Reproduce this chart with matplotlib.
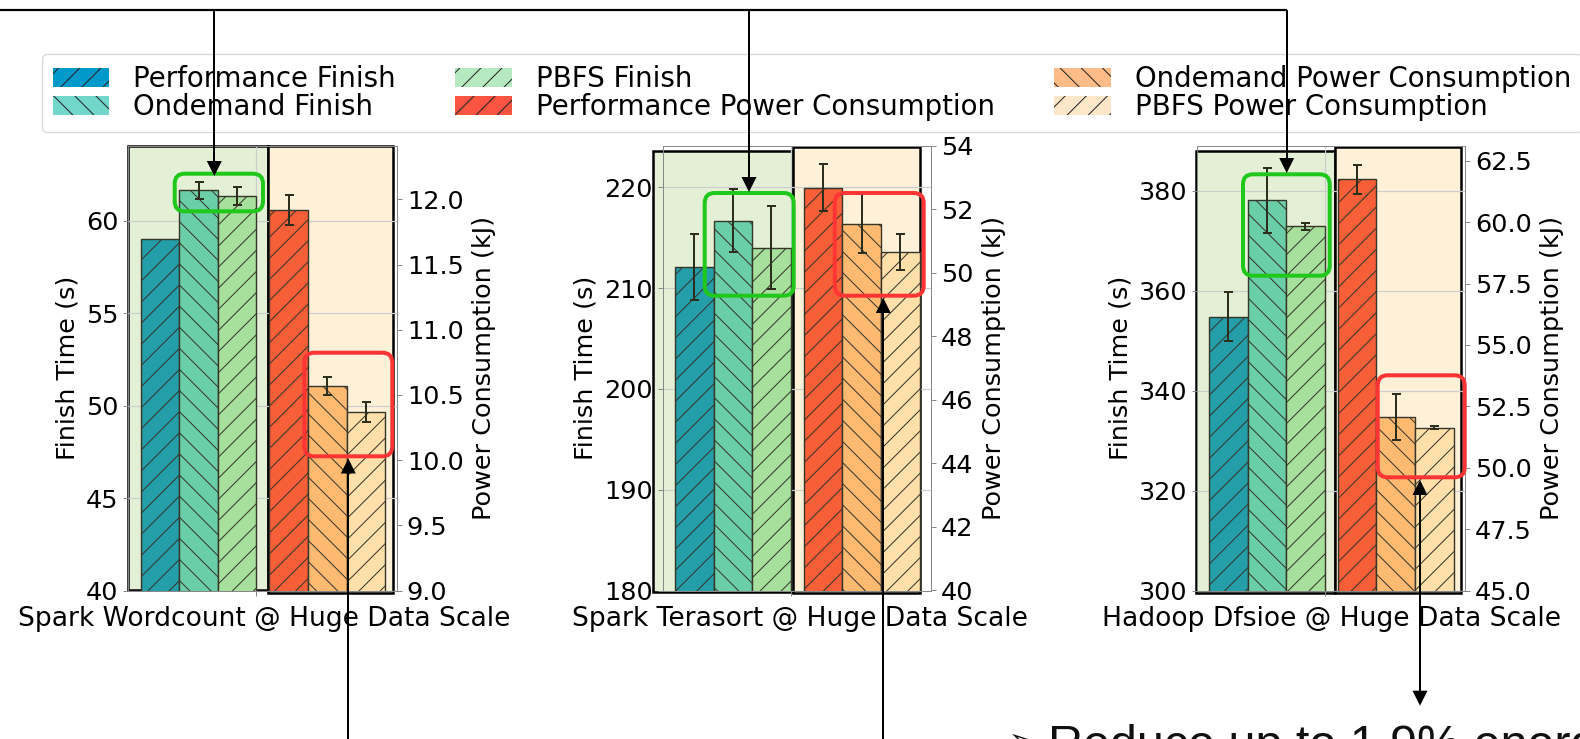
import matplotlib
matplotlib.use("Agg")
import matplotlib.pyplot as plt
from matplotlib.patches import Rectangle, FancyBboxPatch, Polygon, Patch
from matplotlib.lines import Line2D
from matplotlib.transforms import Affine2D

# ---------------------------------------------------------------- data
workloads = ["Spark Wordcount @ Huge Data Scale",
             "Spark Terasort @ Huge Data Scale",
             "Hadoop Dfsioe @ Huge Data Scale"]

finish_perf = [59.0, 212.1, 354.8]
finish_perf_err = [0.0, 3.3, 4.9]
finish_ondemand = [61.65, 216.7, 378.1]
finish_ondemand_err = [0.47, 3.1, 6.5]
finish_pbfs = [61.35, 214.0, 372.9]
finish_pbfs_err = [0.48, 4.1, 0.7]

power_perf = [11.92, 52.69, 61.74]
power_perf_err = [0.115, 0.74, 0.58]
power_ondemand = [10.57, 51.55, 52.07]
power_ondemand_err = [0.067, 0.93, 0.93]
power_pbfs = [10.37, 50.66, 51.63]
power_pbfs_err = [0.078, 0.58, 0.07]

finish_ylim = [(40, 64.04), (180, 224.1), (300, 389.0)]
power_ylim = [(9.0, 12.41), (40, 54), (45, 63.1)]
finish_ticks = [[40, 45, 50, 55, 60],
                [180, 190, 200, 210, 220],
                [300, 320, 340, 360, 380]]
power_ticks = [[9.0, 9.5, 10.0, 10.5, 11.0, 11.5, 12.0],
               [40, 42, 44, 46, 48, 50, 52, 54],
               [45.0, 47.5, 50.0, 52.5, 55.0, 57.5, 60.0, 62.5]]

legend_labels = ["Performance Finish", "Ondemand Finish", "PBFS Finish",
                 "Performance Power Consumption", "Ondemand Power Consumption",
                 "PBFS Power Consumption"]
summary_text = "Reduce up to 1.9% energy consumption"

# ---------------------------------------------------------------- styling
finish_colors = ["#249ea8", "#6acfa9", "#a6e09c"]
power_colors = ["#f75f38", "#ffba72", "#ffdfaa"]
legend_colors = ["#0099c9", "#73d6ca", "#b7e9c1", "#fb5442", "#ffbc88", "#fee7c9"]
legend_hatches = ["///", "\\\\\\", "///", "///", "\\\\\\", "///"]
hatches = ["///", "\\\\\\", "///"]
edge_dark = "#35352a"
err_color = "#2e2e1e"
green_fill, orange_fill = "#e3f0d6", "#fff0d8"
box_green, box_red = "#1fc81a", "#ff3535"

W, H, DPI = 1580, 739, 190


def pt(px):
    """pixel length -> points at the output resolution"""
    return px * 72.0 / DPI


plt.rcParams["font.family"] = "DejaVu Sans"
plt.rcParams["hatch.linewidth"] = pt(1.0)

fig = plt.figure(figsize=(W / DPI, H / DPI), dpi=DPI)
# pixel coordinates with the origin at the top-left corner of the canvas
PIX = Affine2D().scale(1.0 / DPI, -1.0 / DPI).translate(0, H / DPI) + fig.dpi_scale_trans

axes_left = [128.3, 662.7, 1196.7]
axes_top, axes_bottom, axes_w = 146.0, 590.5, 268.5
label_cx = [264.0, 799.6, 1331.7]

# shaded group frames: (x0, y0, x1, y1) in pixels
green_frames = [(128.3, 146.0, 268.0, 590.0), (653.3, 150.7, 793.3, 592.3),
                (1195.7, 150.7, 1335.0, 592.7)]
orange_frames = [(267.5, 146.0, 393.0, 592.7), (793.3, 146.7, 920.0, 592.7),
                 (1335.0, 146.7, 1461.0, 592.7)]
green_boxes = [(174.7, 173.7, 263.0, 211.3), (704.7, 193.0, 793.7, 295.7),
               (1243.0, 174.3, 1329.7, 275.7)]
red_boxes = [(304.3, 352.7, 392.3, 456.3), (834.7, 193.0, 923.7, 295.7),
             (1377.7, 375.3, 1464.7, 477.3)]

finish_x = [-2.5, -1.5, -0.5]
power_x = [0.84, 1.84, 2.84]

for i in range(3):
    ax = fig.add_axes([axes_left[i] / W, 1 - axes_bottom / H, axes_w / W,
                       (axes_bottom - axes_top) / H])
    ax.set_axisbelow(True)
    ax.grid(True, color="#cdcdcd", linewidth=pt(1.2))
    for (x0, y0, x1, y1), fc in ((green_frames[i], green_fill), (orange_frames[i], orange_fill)):
        ax.add_patch(Rectangle((x0, y0), x1 - x0, y1 - y0, transform=PIX, facecolor=fc,
                               edgecolor="black", linewidth=pt(2.5), zorder=0.1,
                               clip_on=False))

    f_vals = [finish_perf[i], finish_ondemand[i], finish_pbfs[i]]
    f_errs = [finish_perf_err[i], finish_ondemand_err[i], finish_pbfs_err[i]]
    p_vals = [power_perf[i], power_ondemand[i], power_pbfs[i]]
    p_errs = [power_perf_err[i], power_ondemand_err[i], power_pbfs_err[i]]

    for k in range(3):
        ax.bar(finish_x[k], f_vals[k], width=1.0, color=finish_colors[k],
               edgecolor=edge_dark, linewidth=pt(1.4), hatch=hatches[k], zorder=2)
        if f_errs[k] > 0:
            ax.errorbar(finish_x[k], f_vals[k], yerr=f_errs[k], fmt="none",
                        ecolor=err_color, elinewidth=pt(2), capsize=pt(4.5),
                        capthick=pt(2), zorder=3)
    ax.set_xlim(-3.32, 3.64)
    ax.set_ylim(*finish_ylim[i])
    ax.set_yticks(finish_ticks[i])
    ax.set_xticks([0])
    ax.tick_params(axis="x", length=pt(5), width=pt(1), color="#888888",
                   labelbottom=False)
    ax.tick_params(axis="y", length=pt(5), width=pt(1), pad=pt(5), color="#888888",
                   labelsize=pt(25.5))
    ax.set_ylabel("Finish Time (s)", fontsize=pt(25.5), labelpad=pt(6))

    ax2 = ax.twinx()
    for k in range(3):
        ax2.bar(power_x[k], p_vals[k], width=1.0, color=power_colors[k],
                edgecolor=edge_dark, linewidth=pt(1.4), hatch=hatches[k], zorder=2)
        ax2.errorbar(power_x[k], p_vals[k], yerr=p_errs[k], fmt="none",
                     ecolor=err_color, elinewidth=pt(2), capsize=pt(4.5),
                     capthick=pt(2), zorder=3)
    ax2.set_xlim(-3.32, 3.64)
    ax2.set_ylim(*power_ylim[i])
    ax2.set_yticks(power_ticks[i])
    ax2.tick_params(axis="y", length=pt(5), width=pt(1), pad=pt(5), color="#888888",
                    labelsize=pt(25.5))
    ax2.set_ylabel("Power Consumption (kJ)", fontsize=pt(25.5), labelpad=pt(8))

    for a in (ax, ax2):
        for sp in a.spines.values():
            sp.set_color("#888888")
            sp.set_linewidth(pt(1))

    fig.text(label_cx[i], 626.0, workloads[i], transform=PIX, ha="center",
             va="baseline", fontsize=pt(26.5))

    # highlight boxes
    for (x0, y0, x1, y1), col in ((green_boxes[i], box_green), (red_boxes[i], box_red)):
        fig.add_artist(FancyBboxPatch((x0, y0), x1 - x0, y1 - y0,
                                      boxstyle="round,pad=0,rounding_size=10",
                                      transform=PIX, facecolor="none", edgecolor=col,
                                      linewidth=pt(4), zorder=9))

# ---------------------------------------------------------------- legend
handles = [Patch(facecolor=c, edgecolor="#222222", hatch=h, linewidth=0)
           for c, h in zip(legend_colors, legend_hatches)]
leg = fig.legend(handles, legend_labels, loc="upper left",
                 bbox_to_anchor=(41.7 / W, 1 - 54.0 / H), bbox_transform=fig.transFigure,
                 ncol=3, fontsize=pt(27.6), borderaxespad=0, columnspacing=2.15,
                 handlelength=2.05, handleheight=0.72, handletextpad=0.87,
                 labelspacing=0.0, borderpad=0.4, frameon=True)
leg.get_frame().set_linewidth(pt(1.2))
leg.set_zorder(4)


# ---------------------------------------------------------------- connectors
def line(xs, ys, lw=2.0):
    fig.add_artist(Line2D(xs, ys, transform=PIX, color="black", linewidth=pt(lw),
                          solid_capstyle="butt", zorder=10))


def head(x, tip, direction):
    """filled arrow head; direction=+1 points down, -1 points up"""
    base = tip - direction * 15
    fig.add_artist(Polygon([(x, tip), (x - 7.5, base), (x + 7.5, base)], closed=True,
                           transform=PIX, facecolor="black", edgecolor="black",
                           linewidth=0, zorder=10))


top_y = 10.0
line([0, 1286.7], [top_y, top_y], lw=2.2)
for x, tip in ((214.3, 176.0), (749.0, 192.0), (1286.7, 173.0)):
    line([x, x], [top_y, tip - 14])
    head(x, tip, +1)

for x, tip in ((348.3, 458.5), (883.3, 298.0)):
    line([x, x], [H + 5, tip + 14])
    head(x, tip, -1)

line([1420.0, 1420.0], [480.0 + 14, 705.7 - 14])
head(1420.0, 480.0, -1)
head(1420.0, 705.7, +1)

fig.text(1008, 752.0, "\u27a2", transform=PIX, fontsize=pt(36),
         family=["DejaVu Sans"], va="baseline", color="#111111")
fig.text(1048, 758.7, summary_text, transform=PIX, fontsize=pt(48.5),
         family=["Liberation Sans", "DejaVu Sans"], va="baseline", color="#111111")

fig.savefig("out.png", dpi=DPI)
